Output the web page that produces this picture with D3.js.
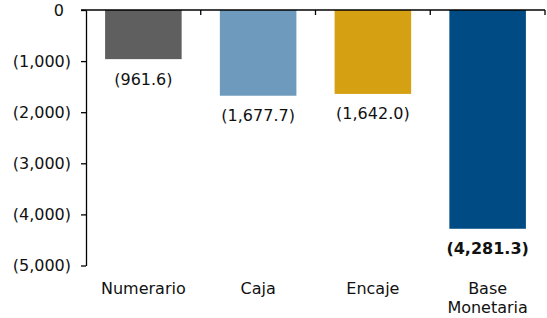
<!DOCTYPE html>
<html><head><meta charset="utf-8">
<script src="https://cdn.jsdelivr.net/npm/d3@7"></script>
<style>
html,body{margin:0;padding:0;background:#fff;}
svg{display:block;font-family:"DejaVu Sans",Verdana,sans-serif;}
</style></head>
<body><svg id="c" width="547" height="318"></svg>
<script>
const categories = [["Numerario"], ["Caja"], ["Encaje"], ["Base", "Monetaria"]];
const values = [-961.6, -1677.7, -1642.0, -4281.3];
const colors = ["#5f5f5f", "#6e9bbd", "#d5a011", "#004b84"];
const boldLabel = [false, false, false, true];
const yTicks = [0, -1000, -2000, -3000, -4000, -5000];

(function () {
const svg = d3.select("#c");
const mLeft = 86, mRight = 545, mTop = 10, mBottom = 265.5;
const fs = 16;
const keys = categories.map(c => c.join(" "));

const x = d3.scaleBand().domain(keys).range([mLeft, mRight]).padding(0);
const y = d3.scaleLinear().domain([-5000, 0]).range([mBottom, mTop]);
const barW = x.bandwidth() * 0.667;
const fmt = v => {
  const s = d3.format(",.1f")(Math.abs(v));
  return v < 0 ? "(" + s + ")" : s;
};
const fmtAxis = v => v < 0 ? "(" + d3.format(",")(Math.abs(v)) + ")" : d3.format(",")(v);

// bars
svg.append("g").selectAll("rect").data(values).join("rect")
  .attr("x", (d, i) => x(keys[i]) + (x.bandwidth() - barW) / 2)
  .attr("y", d => y(Math.max(0, d)))
  .attr("width", barW)
  .attr("height", d => Math.abs(y(d) - y(0)))
  .attr("fill", (d, i) => colors[i]);

// y axis
const ya = svg.append("g").attr("transform", `translate(${mLeft},0)`)
  .call(d3.axisLeft(y).tickValues(yTicks).tickFormat(fmtAxis).tickSize(5).tickSizeOuter(0).tickPadding(10));
ya.select(".domain").attr("stroke", "#000").attr("stroke-width", 1.3);
ya.selectAll(".tick line").attr("stroke", "#000").attr("stroke-width", 1.3);
ya.selectAll(".tick text").attr("font-size", fs).attr("fill", "#111")
  .attr("font-family", '"DejaVu Sans",Verdana,sans-serif')
  .attr("dx", d => d >= 0 ? -7 : 0);

// zero line with category boundary ticks
const zl = svg.append("g").attr("transform", `translate(0,${y(0)})`);
zl.append("line").attr("x1", mLeft - 5).attr("x2", mRight).attr("stroke", "#000").attr("stroke-width", 1.3);
zl.selectAll("line.t").data(keys).join("line").attr("class", "t")
  .attr("x1", d => x(d) + x.bandwidth()).attr("x2", d => x(d) + x.bandwidth())
  .attr("y1", 0).attr("y2", 5).attr("stroke", "#000").attr("stroke-width", 1.3);

// value labels
svg.append("g").selectAll("text").data(values).join("text")
  .attr("x", (d, i) => x(keys[i]) + x.bandwidth() / 2)
  .attr("y", d => y(d) + 25.5)
  .attr("text-anchor", "middle")
  .attr("font-size", fs)
  .attr("font-weight", (d, i) => boldLabel[i] ? "bold" : "normal")
  .attr("fill", "#111")
  .text(d => fmt(d));

// category labels
const cl = svg.append("g").selectAll("text").data(categories).join("text")
  .attr("x", (d, i) => x(keys[i]) + x.bandwidth() / 2)
  .attr("y", 294)
  .attr("text-anchor", "middle")
  .attr("font-size", fs)
  .attr("fill", "#111");
cl.selectAll("tspan").data(d => d).join("tspan")
  .attr("x", function () { return d3.select(this.parentNode).attr("x"); })
  .attr("dy", (d, i) => i === 0 ? 0 : 19)
  .text(d => d);
})();
</script></body></html>
